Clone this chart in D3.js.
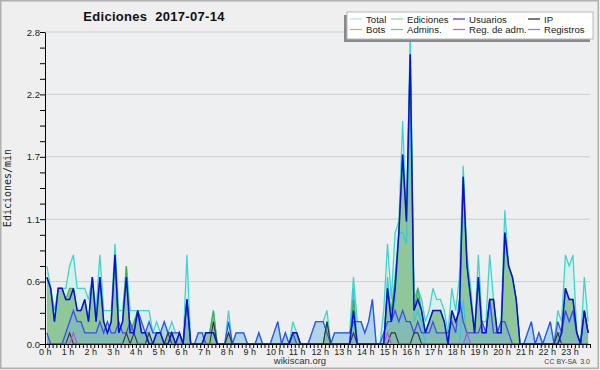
<!DOCTYPE html>
<html><head><meta charset="utf-8">
<script src="https://cdn.jsdelivr.net/npm/d3@7/dist/d3.min.js"></script>
<style>
body{margin:0;background:#efefef;}
svg{display:block;font-family:"Liberation Sans",Arial,sans-serif;}
</style>
</head><body>
<svg id="c" width="600" height="370"></svg>
<script>
const titleText = "Ediciones  2017-07-14";
const yAxisTitle = "Ediciones/min";
const hourLabels = ["0 h","1 h","2 h","3 h","4 h","5 h","6 h","7 h","8 h","9 h","10 h","11 h",
  "12 h","13 h","14 h","15 h","16 h","17 h","18 h","19 h","20 h","21 h","22 h","23 h"];
const yTickValues = [0, 0.56, 1.12, 1.68, 2.24, 2.8];
const yTickLabels = ["0.0","0.6","1.1","1.7","2.2","2.8"];
const legendNames = ["Total","Ediciones","Usuarios","IP","Bots","Admins.","Reg. de adm.","Registros"];
const legendColors = ["#abe6e2","#8fd694","#3a3ae6","#222222","#f0a040","#45cbdc","#cc55e6","#7d7df5"];

// 10-minute slots, edits per minute
const total = [
 0.7,0.5,0.3,0.5,0.5,0.5, 0.7,0.8,0.5,0.5,0.5,0.4, 0.6,0.3,0.8,0.3,0.3,0.3, 0.9,0.3,0.3,0.7,0.3,0.3,
 0.3,0.3,0.3,0.3,0.1,0.2, 0.1,0.2,0.1,0.2,0.1,0.1, 0,0.8,0,0,0.1,0.1, 0.1,0.1,0.3,0,0,0,
 0.3,0,0.1,0.1,0.1,0, 0,0,0.1,0,0,0, 0.1,0.2,0,0.1,0,0.2, 0.1,0,0,0,0.1,0.2,
 0.2,0.2,0.3,0,0.1,0.1, 0.1,0.1,0.1,0.6,0.2,0.2, 0.1,0.2,0.4,0,0,0.3, 0.9,0.4,1.0,1.1,2.0,1.1,
 2.8,0.4,0.5,0.4,0.2,0.3, 0.5,0.4,0.4,0.3,0.1,0.5, 0.3,0.6,1.6,0.8,0.5,0.1, 0.8,0.2,0.2,0.8,0.4,0.1,
 0.2,1.2,0.7,0.6,0.4,0, 0,0.1,0.2,0,0.1,0, 0.1,0.2,0,0.3,0.2,0.8, 0.7,0.8,0.1,0,0.6,0.2];
const ediciones = [
 0.6,0.5,0.2,0.5,0.5,0.4, 0.5,0.5,0.3,0.3,0.4,0.2, 0.6,0.2,0.6,0.2,0.1,0.2, 0.8,0.1,0.2,0.7,0.1,0.2,
 0.3,0.1,0.1,0.1,0,0.1, 0.1,0,0.1,0.1,0,0.1, 0,0.4,0,0,0,0, 0.1,0.1,0.3,0,0,0,
 0.1,0,0,0,0,0, 0,0,0,0,0,0, 0,0,0,0,0,0.1, 0.1,0,0,0,0,0,
 0,0,0.2,0,0,0, 0,0,0,0.4,0,0, 0,0,0,0,0,0, 0.5,0.3,0.6,1.0,1.7,1.1,
 2.6,0.3,0.5,0.3,0.1,0.2, 0.3,0.3,0.3,0.2,0,0.3, 0.2,0.3,1.5,0.7,0.4,0.1, 0.6,0.1,0.1,0.4,0.4,0.1,
 0.1,1.0,0.7,0.6,0.4,0, 0,0,0,0,0,0, 0,0,0,0.1,0.1,0.5, 0.4,0.4,0.1,0,0.3,0.1];
const usuarios = [
 0.6,0.5,0.2,0.5,0.5,0.4, 0.4,0.5,0.3,0.3,0.4,0.2, 0.6,0.2,0.6,0.2,0.1,0.2, 0.8,0.1,0.2,0.6,0.1,0.1,
 0.3,0.1,0.1,0,0,0.1, 0.1,0,0,0.1,0,0.1, 0,0.4,0,0,0,0, 0.1,0.1,0.1,0,0,0,
 0,0,0,0,0,0, 0,0,0,0,0,0, 0,0,0,0,0,0.1, 0.1,0,0,0,0,0,
 0,0,0,0,0,0, 0,0,0,0.3,0,0, 0,0,0,0,0,0, 0.5,0.2,0.5,1.0,1.7,1.1,
 2.6,0.3,0.4,0.3,0.1,0.2, 0.3,0.3,0.3,0.2,0,0.3, 0.2,0.3,1.5,0.7,0.4,0.1, 0.6,0.1,0.1,0.4,0.4,0.1,
 0.1,1.0,0.7,0.6,0.4,0, 0,0,0,0,0,0, 0,0,0,0,0.1,0.5, 0.4,0.4,0.1,0,0.3,0.1];
const ip = [
 0,0,0,0,0,0, 0.1,0,0,0,0,0, 0,0,0,0,0,0, 0,0,0,0.1,0,0.1,
 0,0,0,0.1,0,0, 0,0,0.1,0,0,0, 0,0,0,0,0,0, 0,0,0.2,0,0,0,
 0.1,0,0,0,0,0, 0,0,0,0,0,0, 0,0,0,0,0,0, 0,0,0,0,0,0,
 0,0,0.2,0,0,0, 0,0,0,0.1,0,0, 0,0,0,0,0,0, 0,0.1,0.1,0,0,0,
 0,0.1,0.1,0,0,0, 0,0,0,0,0,0, 0,0,0,0,0,0, 0,0,0,0,0,0,
 0,0,0,0,0,0, 0,0,0,0,0,0, 0,0,0,0.1,0,0, 0,0,0,0,0,0];
const bots = new Array(144).fill(0);
const admins = [
 0,0,0,0,0,0, 0,0,0,0,0,0, 0,0,0,0,0,0, 0,0,0,0,0,0,
 0,0,0,0,0,0, 0,0,0,0,0,0, 0,0,0,0,0,0, 0,0,0,0,0,0,
 0,0,0,0,0,0, 0,0,0,0,0,0, 0,0,0,0,0,0, 0,0,0,0,0,0,
 0,0,0,0,0,0, 0,0,0,0.5,0,0, 0,0,0,0,0,0, 0.6,0.2,0.4,1.0,1.0,0.9,
 2.2,0.2,0.3,0.2,0,0, 0,0,0,0,0,0, 0,0,0.4,0,0,0, 0,0,0,0,0,0,
 0,0,0,0,0,0, 0,0,0,0,0,0, 0,0,0,0,0,0, 0,0,0,0,0,0];
const regAdm = [
 0,0,0,0,0,0, 0,0.1,0,0,0,0, 0,0,0,0,0,0, 0,0,0,0,0,0,
 0,0,0,0,0,0, 0,0,0,0,0,0, 0,0,0,0,0,0, 0,0,0,0,0,0,
 0,0,0,0,0,0, 0,0,0,0,0,0, 0,0,0,0,0,0, 0,0,0,0,0,0,
 0,0,0,0,0,0, 0,0,0,0,0,0, 0,0,0,0,0,0, 0.1,0,0,0,0,0,
 0,0,0,0,0,0, 0,0,0,0,0,0, 0,0,0,0.1,0,0, 0,0,0,0,0,0,
 0,0,0,0,0,0, 0,0,0,0,0,0, 0,0,0,0,0,0, 0,0,0,0,0,0];
const registros = [
 0.1,0,0,0,0,0.1, 0.2,0.3,0.2,0.2,0.1,0.1, 0.1,0.1,0.2,0.1,0.2,0.1, 0.1,0.2,0.1,0.1,0.2,0.1,
 0.3,0.2,0.1,0.2,0.1,0.1, 0.1,0.2,0.1,0.1,0.1,0.1, 0,0.4,0,0,0.1,0.1, 0,0,0,0,0,0,
 0.2,0,0.1,0.1,0.1,0, 0,0,0.1,0,0,0, 0.1,0.2,0,0.1,0,0.1, 0,0,0,0,0.1,0.2,
 0.2,0.2,0.1,0,0.1,0.1, 0.1,0.1,0.1,0.2,0.2,0.2, 0.1,0.2,0.4,0,0,0.1, 0.2,0.2,0.3,0.2,0.3,0.2,
 0.2,0.1,0.2,0.1,0.1,0.1, 0.2,0.1,0.1,0.1,0.1,0.2, 0.1,0.4,0.2,0.1,0.1,0.1, 0.1,0.2,0.1,0.4,0.1,0.1,
 0.2,0.2,0.1,0,0,0, 0,0.1,0.2,0,0.1,0, 0.1,0.2,0,0.2,0.1,0.3, 0.2,0.3,0.1,0,0.3,0.1];

const svg = d3.select("#c");
const W = 600, H = 370;
const mLeft = 45, mRight = 590, mTop = 32, mBottom = 344;

svg.append("rect").attr("x",0).attr("y",0).attr("width",W).attr("height",H).attr("fill","#efefef");
svg.append("rect").attr("x",mLeft).attr("y",mTop).attr("width",mRight-mLeft).attr("height",mBottom-mTop).attr("fill","#eeeff1");

const x = d3.scaleLinear().domain([0, 144]).range([mLeft, mRight]);
const y = d3.scaleLinear().domain([0, 2.8]).range([mBottom, mTop]);

// grid
svg.append("g").selectAll("line").data(yTickValues.slice(1)).join("line")
  .attr("x1", mLeft).attr("x2", mRight).attr("y1", d => y(d)).attr("y2", d => y(d))
  .attr("stroke", "#cdcdcd").attr("stroke-width", 1);

const px = (d, i) => x(i + 0.5);
const area = d3.area().x(px).y0(y(0)).y1(d => y(d));
const line = d3.line().x(px).y(d => y(d));

const plot = svg.append("g");
plot.append("path").datum(total).attr("d", area).attr("fill", "#d9efec");
plot.append("path").datum(ediciones).attr("d", area).attr("fill", "#8fc79a");
plot.append("path").datum(registros).attr("d", area).attr("fill", "rgba(110,170,220,0.38)");

const lineSeries = [
  [total, "#3dd6cc", 1.3],
  [admins, "#38c4e4", 1.2],
  [ediciones, "#3fb24c", 1.2],
  [bots, "#f0a040", 1.2],
  [registros, "#3c4cf4", 1.3],
  [ip, "#333333", 1.1],
  [regAdm, "#c445e0", 1.1],
  [usuarios, "#0a10d4", 1.5]
];
lineSeries.forEach(([data, color, w]) => {
  plot.append("path").datum(data).attr("d", line)
    .attr("fill", "none").attr("stroke", color).attr("stroke-width", w)
    .attr("stroke-linejoin", "miter");
});

// y axis
const yMinor = d3.range(0, 21).map(k => +(k * 0.14).toFixed(2));
const yAxis = d3.axisLeft(y).tickValues(yMinor).tickSize(5).tickSizeOuter(0)
  .tickFormat(d => { const k = yTickValues.findIndex(v => Math.abs(v - d) < 1e-6); return k >= 0 ? yTickLabels[k] : ""; });
const gy = svg.append("g").attr("transform", `translate(${mLeft},0)`).call(yAxis);
gy.select(".domain").attr("stroke", "#000");
gy.selectAll(".tick line").attr("stroke", "#000");
gy.selectAll(".tick text").attr("font-family", "Liberation Sans, Arial, sans-serif").attr("font-size", 9.5).attr("fill", "#222").attr("x", -5);

// x axis
const xAxis = d3.axisBottom(x).tickValues(d3.range(0, 145)).tickSize(4).tickSizeOuter(0).tickFormat("");
const gx = svg.append("g").attr("transform", `translate(0,${mBottom})`).call(xAxis);
gx.select(".domain").attr("stroke", "#000");
gx.selectAll(".tick line").attr("stroke", "#000");
svg.append("g").selectAll("text").data(hourLabels).join("text")
  .attr("x", (d, i) => x(i * 6) - 6).attr("y", 354.5)
  .attr("font-size", 9).attr("fill", "#222").text(d => d);

// title
svg.append("text").attr("x", 154).attr("y", 20.5).attr("text-anchor", "middle")
  .attr("font-size", 13).attr("font-weight", "bold").attr("fill", "#111")
  .attr("letter-spacing", 0.3)
  .style("white-space", "pre").text(titleText);

// y title
svg.append("text").attr("transform", "translate(11,188) rotate(-90)")
  .attr("text-anchor", "middle").attr("font-family", "DejaVu Sans Mono, monospace")
  .attr("font-size", 10).attr("fill", "#222").text(yAxisTitle);

// footer
svg.append("text").attr("x", 300).attr("y", 364).attr("text-anchor", "middle")
  .attr("font-size", 9.5).attr("fill", "#333").text("wikiscan.org");
svg.append("text").attr("x", 590).attr("y", 364).attr("text-anchor", "end")
  .attr("font-size", 7).attr("fill", "#444").style("white-space", "pre").text("CC BY-SA  3.0");

// legend
const lg = svg.append("g");
lg.append("rect").attr("x", 344).attr("y", 15).attr("width", 246).attr("height", 27).attr("fill", "#8a8a8a");
lg.append("rect").attr("x", 347).attr("y", 12).attr("width", 246).attr("height", 27)
  .attr("fill", "#ffffff").attr("stroke", "#b8b8b8").attr("stroke-width", 1);
const colX = [350, 391, 453, 528];
const rowY = [19, 29.5];
legendNames.forEach((name, k) => {
  const cx = colX[k % 4], cy = rowY[Math.floor(k / 4)];
  lg.append("line").attr("x1", cx).attr("x2", cx + 12).attr("y1", cy).attr("y2", cy)
    .attr("stroke", legendColors[k]).attr("stroke-width", 1.2);
  lg.append("text").attr("x", cx + 16).attr("y", cy + 3.5).attr("font-size", 9.6)
    .attr("fill", "#222").text(name);
});

// border
svg.append("rect").attr("x", 0.75).attr("y", 0.75).attr("width", W - 2.5).attr("height", H - 2.5)
  .attr("fill", "none").attr("stroke", "#b0b0b0").attr("stroke-width", 1.5);
</script>
</body></html>
